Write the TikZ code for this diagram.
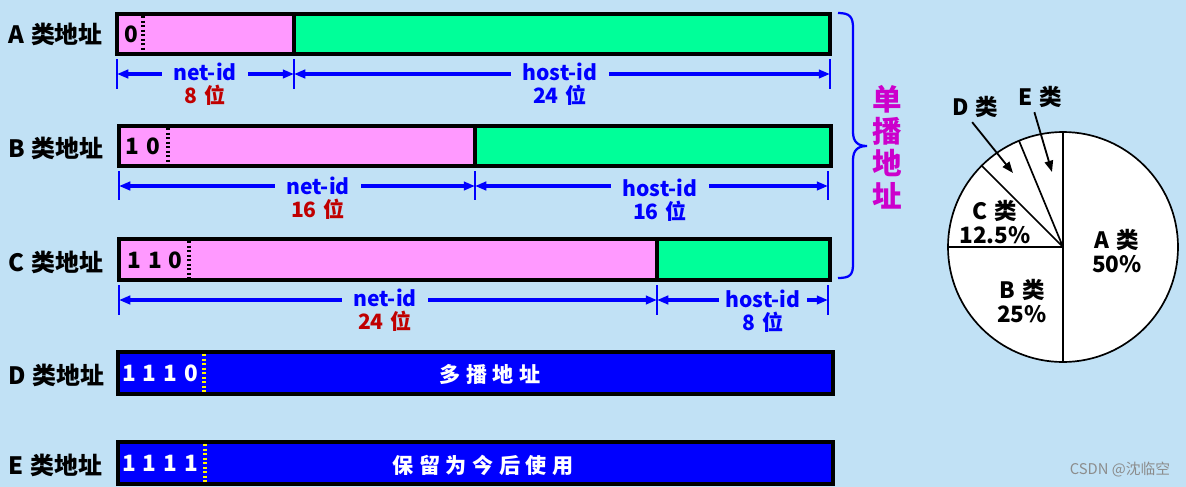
\documentclass[tikz,border=0pt]{standalone}
\usepackage{fontspec}
\setmainfont{Noto Sans CJK SC}
\usetikzlibrary{arrows.meta}
\definecolor{ipbg}{RGB}{193,225,245}
\definecolor{ippink}{RGB}{255,153,255}
\definecolor{ipgreen}{RGB}{0,255,153}
\definecolor{ipblue}{RGB}{0,0,255}
\definecolor{ipred}{RGB}{192,0,0}
\definecolor{ipmag}{RGB}{204,0,204}
\newcommand{\bitgap}{\hspace{5pt}}
\newcommand{\chargap}{\hspace{4pt}}
\newcommand{\wgap}{\hspace{5pt}}

\tikzset{
  rowlabel/.style={anchor=west, inner sep=0pt, font=\fontsize{17}{17}\selectfont\bfseries},
  netfield/.style={fill=ippink, draw=black, line width=2.2pt},
  hostfield/.style={fill=ipgreen, draw=black, line width=2.2pt},
  bluefield/.style={fill=ipblue, draw=black, line width=3.2pt},
  prefixdots/.style={black, line width=2.2pt, dash pattern=on 1.6pt off 1.6pt},
  yellowdots/.style={yellow, line width=2.2pt, dash pattern=on 1.6pt off 1.6pt},
  bitstext/.style={inner sep=0pt, font=\fontsize{16}{16}\selectfont\bfseries},
  whitebits/.style={inner sep=0pt, text=white, font=\fontsize{16}{16}\selectfont\bfseries},
  fieldname/.style={inner sep=0pt, text=white, font=\fontsize{15}{15}\selectfont\bfseries},
  dimtick/.style={ipblue, line width=1.8pt},
  dimarrow/.style={ipblue, line width=2.2pt, {Triangle[length=8pt,width=6pt]}-{Triangle[length=8pt,width=6pt]}},
  idlabel/.style={fill=ipbg, align=center, inner xsep=8pt, inner ysep=1pt, text=ipblue,
    font=\fontsize{15}{16.5}\selectfont\bfseries},
  pietext/.style={align=center, inner sep=0pt, font=\fontsize{16}{17}\selectfont\bfseries},
  piearrow/.style={line width=1.3pt, -{Triangle[length=8pt,width=6pt]}}
}

\begin{document}
\begin{tikzpicture}[x=0.025cm, y=-0.025cm]
  \useasboundingbox (0,0) rectangle (1186,487);
  \fill[ipbg] (0,0) rectangle (1186,487);

  % A class
  \node[rowlabel] (labA) at (8,34) {A\wgap 类地址};
  \fill[netfield] (117,14) rectangle (294,54);
  \fill[hostfield] (294,14) rectangle (830,54);
  \draw[prefixdots] (143,16) -- (143,52);
  \node[bitstext] (bitsA) at (131,34) {0};
  \coordinate (A0) at (117,74);
  \coordinate (A1) at (294,74);
  \coordinate (A2) at (830,74);
  \draw[dimtick] (117,59) -- (117,89) (294,59) -- (294,89) (830,59) -- (830,89);
  \draw[dimarrow] (A0) -- (A1);
  \draw[dimarrow] (A1) -- (A2);
  \node[idlabel] (netA) at (205,84) {net-id\\\textcolor{ipred}{8\wgap 位}};
  \node[idlabel] (hostA) at (560,84) {host-id\\24\wgap 位};

  % B class
  \node[rowlabel] (labB) at (8,148) {B\wgap 类地址};
  \fill[netfield] (119,126) rectangle (475,166);
  \fill[hostfield] (475,126) rectangle (831,166);
  \draw[prefixdots] (168,128) -- (168,164);
  \node[bitstext] (bitsB) at (143,146) {1\bitgap 0};
  \coordinate (B0) at (119,186);
  \coordinate (B1) at (475,186);
  \coordinate (B2) at (828,186);
  \draw[dimtick] (119,171) -- (119,200) (475,171) -- (475,200) (828,171) -- (828,200);
  \draw[dimarrow] (B0) -- (B1);
  \draw[dimarrow] (B1) -- (B2);
  \node[idlabel] (netB) at (318,198) {net-id\\\textcolor{ipred}{16\wgap 位}};
  \node[idlabel] (hostB) at (660,200) {host-id\\16\wgap 位};

  % C class
  \node[rowlabel] (labC) at (8,262) {C\wgap 类地址};
  \fill[netfield] (119,239) rectangle (657,280);
  \fill[hostfield] (657,239) rectangle (830,280);
  \draw[prefixdots] (189,241) -- (189,278);
  \node[bitstext] (bitsC) at (155,260) {1\bitgap 1\bitgap 0};
  \coordinate (C0) at (119,300);
  \coordinate (C1) at (657,300);
  \coordinate (C2) at (828,300);
  \draw[dimtick] (119,285) -- (119,315) (657,285) -- (657,315) (828,285) -- (828,315);
  \draw[dimarrow] (C0) -- (C1);
  \draw[dimarrow] (C1) -- (C2);
  \node[idlabel] (netC) at (385,310) {net-id\\\textcolor{ipred}{24\wgap 位}};
  \node[idlabel, inner xsep=5pt] (hostC) at (763,311) {host-id\\8\wgap 位};

  % D and E class
  \node[rowlabel] (labD) at (8,375) {D\wgap 类地址};
  \fill[bluefield] (118,352) rectangle (833,394);
  \draw[yellowdots] (204,354) -- (204,392);
  \node[whitebits] (bitsD) at (160,373) {1\bitgap 1\bitgap 1\bitgap 0};
  \node[fieldname] (multi) at (490,374) {多\chargap 播\chargap 地\chargap 址};

  \node[rowlabel] (labE) at (8,465) {E\wgap 类地址};
  \fill[bluefield] (118,442) rectangle (833,484);
  \draw[yellowdots] (205,444) -- (205,482);
  \node[whitebits] (bitsE) at (160,463) {1\bitgap 1\bitgap 1\bitgap 1};
  \node[fieldname] (resv) at (483,465) {保\chargap 留\chargap 为\chargap 今\chargap 后\chargap 使\chargap 用};

  % unicast brace
  \draw[ipblue, line width=1.6pt] (838,13) .. controls (850,13) and (853,17) .. (853,28) -- (853,132)
    .. controls (853,142) and (858,146) .. (867,146) .. controls (858,146) and (853,150) .. (853,160)
    -- (853,264) .. controls (853,275) and (850,278) .. (838,278);
  \node[align=center, inner sep=0pt, text=ipmag, font=\fontsize{21}{23}\selectfont\bfseries] (unicast) at (887,147) {单\\播\\地\\址};

  % pie
  \coordinate (pc) at (1063,247);
  \filldraw[fill=white, draw=black, line width=1.2pt] (pc) circle [radius=115];
  \draw[line width=1.2pt] (1063,132) -- (1063,362) (pc) -- (948,247) (pc) -- (981.7,165.7) (pc) -- (1019,140.8);
  \node[pietext] (pieA) at (1117,251) {A\wgap 类\\50\%};
  \node[pietext] (pieB) at (1022,301) {B\wgap 类\\25\%};
  \node[pietext] (pieC) at (995,222) {C\wgap 类\\12.5\%};
  \node[pietext] (pieD) at (975,107) {D\wgap 类};
  \node[pietext] (pieE) at (1040,97) {E\wgap 类};
  \coordinate (tipD) at (1013,173);
  \coordinate (tipE) at (1052,172);
  \draw[piearrow] ([xshift=-2pt,yshift=-3pt]pieD.south) -- (tipD);
  \draw[piearrow] ([xshift=-4pt,yshift=-3pt]pieE.south) -- (tipE);

  \node[inner sep=0pt, text=black!45, font=\fontsize{10.5}{11}\selectfont] (mark) at (1120,470) {CSDN @沈临空};
\end{tikzpicture}
\end{document}
